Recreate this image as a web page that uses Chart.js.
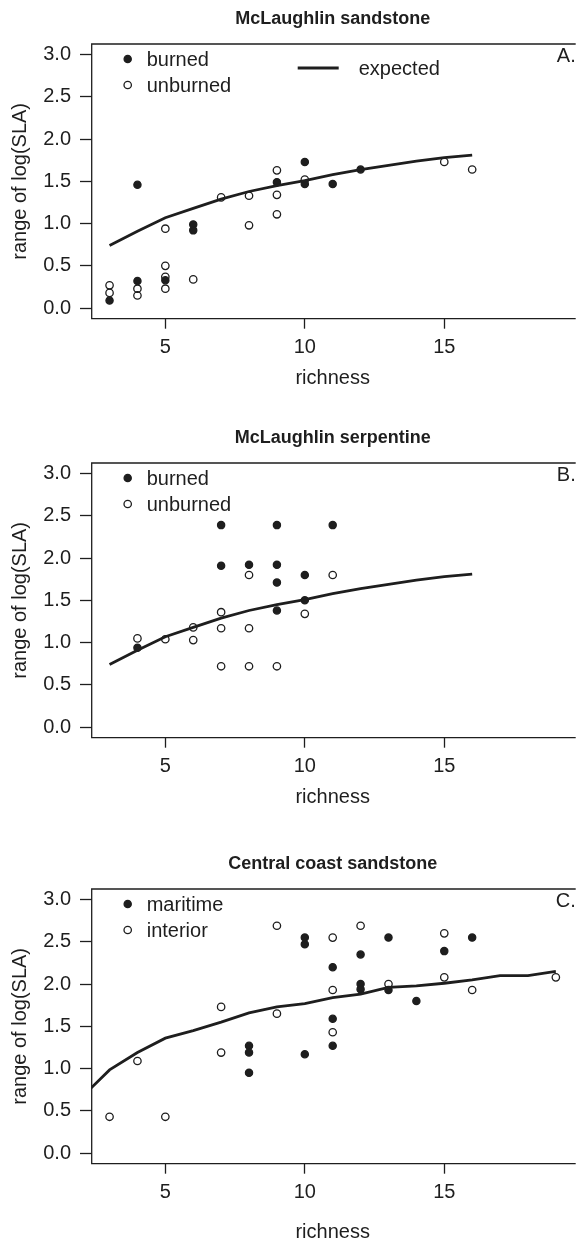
<!DOCTYPE html>
<html>
<head>
<meta charset="utf-8">
<script src="https://cdn.jsdelivr.net/npm/chart.js@4.4.1/dist/chart.umd.min.js"></script>
<style>
  html, body { margin: 0; padding: 0; background: #fff; }
  body { width: 579px; height: 1241px; overflow: hidden; position: relative; }
  .panel { position: absolute; left: 0; }
</style>
</head>
<body>
<div class="panel" style="top:0px"><canvas id="chart-a" width="579" height="400"></canvas></div>
<div class="panel" style="top:419px"><canvas id="chart-b" width="579" height="400"></canvas></div>
<div class="panel" style="top:845px"><canvas id="chart-c" width="579" height="409"></canvas></div>
<script>
const INK = '#1e1e1e';
const FONT = '"Liberation Sans", Arial, Helvetica, sans-serif';

// shared axes
const xTickValues = [5, 10, 15];
const yTickValues = [0, 0.5, 1, 1.5, 2, 2.5, 3];

// A. McLaughlin sandstone
const sandBurnedX = [3, 4, 4, 5, 6, 6, 9, 10, 10, 11, 12];
const sandBurnedY = [0.09, 0.32, 1.46, 0.33, 0.99, 0.92, 1.49, 1.73, 1.47, 1.47, 1.64];
const sandUnburnedX = [3, 3, 4, 4, 5, 5, 5, 5, 6, 7, 8, 8, 9, 9, 9, 10, 15, 16];
const sandUnburnedY = [0.27, 0.18, 0.23, 0.15, 0.94, 0.50, 0.37, 0.23, 0.34, 1.31, 1.33, 0.98, 1.63, 1.34, 1.11, 1.52, 1.73, 1.64];

// expected curve for the McLaughlin panels
const expectedX = [3, 4, 5, 6, 7, 8, 9, 10, 11, 12, 13, 14, 15, 16];
const expectedY = [0.74, 0.91, 1.07, 1.18, 1.29, 1.38, 1.45, 1.51, 1.58, 1.64, 1.69, 1.74, 1.78, 1.81];

// B. McLaughlin serpentine
const serpBurnedX = [4, 7, 7, 8, 9, 9, 9, 9, 10, 10, 11];
const serpBurnedY = [0.94, 2.39, 1.91, 1.92, 2.39, 1.92, 1.71, 1.38, 1.80, 1.50, 2.39];
const serpUnburnedX = [4, 5, 6, 6, 7, 7, 7, 8, 8, 8, 9, 10, 11];
const serpUnburnedY = [1.05, 1.04, 1.18, 1.03, 1.36, 1.17, 0.72, 1.80, 1.17, 0.72, 0.72, 1.34, 1.80];

// C. Central coast sandstone
const coastMaritimeX = [8, 8, 8, 10, 10, 10, 11, 11, 11, 12, 12, 12, 13, 13, 14, 15, 16];
const coastMaritimeY = [1.27, 1.19, 0.95, 2.55, 2.47, 1.17, 2.20, 1.59, 1.27, 2.35, 2.00, 1.94, 2.55, 1.93, 1.80, 2.39, 2.55];
const coastInteriorX = [3, 4, 5, 7, 7, 9, 9, 11, 11, 11, 12, 13, 15, 15, 16, 19];
const coastInteriorY = [0.43, 1.09, 0.43, 1.73, 1.19, 2.69, 1.65, 2.55, 1.93, 1.43, 2.69, 2.00, 2.60, 2.08, 1.93, 2.08];
const coastExpectedX = [2, 3, 4, 5, 6, 7, 8, 9, 10, 11, 12, 13, 14, 15, 16, 17, 18, 19];
const coastExpectedY = [0.66, 0.985, 1.19, 1.36, 1.45, 1.55, 1.66, 1.73, 1.77, 1.84, 1.88, 1.96, 1.98, 2.01, 2.05, 2.10, 2.10, 2.15];

function toPoints(xs, ys) {
    return xs.map((x, i) => ({ x: x, y: ys[i] }));
}

function pointSet(label, xs, ys, filled) {
    return {
        label: label,
        data: toPoints(xs, ys),
        showLine: false,
        pointRadius: filled ? 3.6 : 3.7,
        pointBorderWidth: 1.3,
        pointBackgroundColor: filled ? INK : 'rgba(0,0,0,0)',
        pointBorderColor: INK,
        filled: filled
    };
}

function curveSet(label, xs, ys) {
    return {
        label: label,
        data: toPoints(xs, ys),
        showLine: true,
        borderColor: INK,
        borderWidth: 2.8,
        pointRadius: 0,
        tension: 0,
        fill: false,
        isCurve: true
    };
}

// box round the plot region (right side falls off the page)
const framePlugin = {
    id: 'frame',
    afterDraw(chart) {
        const { ctx, chartArea: { left, top, right, bottom } } = chart;
        ctx.save();
        ctx.strokeStyle = INK;
        ctx.lineWidth = 1.3;
        ctx.beginPath();
        ctx.moveTo(right + 2, top);
        ctx.lineTo(left, top);
        ctx.lineTo(left, bottom);
        ctx.lineTo(right + 2, bottom);
        ctx.stroke();
        ctx.restore();
    }
};

// R-style legend inside the plot plus the panel letter
const panelLegend = {
    id: 'panelLegend',
    afterDraw(chart, args, opts) {
        const { ctx, chartArea: { left, top, right } } = chart;
        ctx.save();
        ctx.font = '20px ' + FONT;
        ctx.fillStyle = INK;
        ctx.strokeStyle = INK;
        ctx.textBaseline = 'middle';
        let row = 0;
        chart.data.datasets.forEach(ds => {
            if (ds.isCurve) {
                if (!opts.showCurve) return;
                const y = top + 24;
                ctx.lineWidth = 2.8;
                ctx.beginPath();
                ctx.moveTo(left + 206, y);
                ctx.lineTo(left + 247, y);
                ctx.stroke();
                ctx.fillText(ds.label, left + 267, y + 1);
                return;
            }
            const y = top + 15 + row * 26;
            ctx.lineWidth = 1.3;
            ctx.beginPath();
            ctx.arc(left + 36, y, ds.filled ? 3.6 : 3.7, 0, Math.PI * 2);
            if (ds.filled) ctx.fill();
            ctx.stroke();
            ctx.fillText(ds.label, left + 55, y + 1);
            row++;
        });
        ctx.textAlign = 'right';
        ctx.fillText(opts.tag, right + 2, top + 12);
        ctx.restore();
    }
};

function buildPanel(canvasId, title, tag, datasets, showCurve, axisHeight) {
    const ctx = document.getElementById(canvasId).getContext('2d');
    return new Chart(ctx, {
        type: 'scatter',
        data: { datasets: datasets },
        plugins: [framePlugin, panelLegend],
        options: {
            responsive: false,
            animation: false,
            devicePixelRatio: 1,
            events: [],
            layout: { padding: 0 },
            plugins: {
                legend: { display: false },
                tooltip: { enabled: false },
                title: {
                    display: true,
                    fullSize: false,   // centre over the plot region, as R does
                    text: title,
                    color: INK,
                    font: { family: FONT, size: 18, weight: 'bold' },
                    padding: { top: 8.2, bottom: 14.2 }
                },
                panelLegend: { tag: tag, showCurve: showCurve }
            },
            scales: {
                x: {
                    type: 'linear',
                    min: 2.36,
                    max: 19.64,
                    afterBuildTicks: axis => { axis.ticks = xTickValues.map(v => ({ value: v })); },
                    afterFit: axis => { axis.height = axisHeight; },
                    ticks: {
                        color: INK,
                        font: { family: FONT, size: 20 },
                        padding: 7,
                        autoSkip: false,
                        maxRotation: 0,
                        callback: v => String(v)
                    },
                    grid: { drawOnChartArea: false, drawTicks: true, tickLength: 10, tickColor: INK, tickWidth: 1.3 },
                    border: { display: false },
                    title: {
                        display: true,
                        text: 'richness',
                        color: INK,
                        font: { family: FONT, size: 20 },
                        padding: { top: 0, bottom: 10 }
                    }
                },
                y: {
                    type: 'linear',
                    min: -0.125,
                    max: 3.125,
                    afterBuildTicks: axis => { axis.ticks = yTickValues.map(v => ({ value: v })); },
                    afterFit: axis => { axis.width = 91.7; },
                    ticks: {
                        color: INK,
                        font: { family: FONT, size: 20 },
                        padding: 9,
                        autoSkip: false,
                        callback: v => Number(v).toFixed(1)
                    },
                    grid: { drawOnChartArea: false, drawTicks: true, tickLength: 11.7, tickColor: INK, tickWidth: 1.3 },
                    border: { display: false },
                    title: {
                        display: true,
                        text: 'range of log(SLA)',
                        color: INK,
                        font: { family: FONT, size: 20 },
                        padding: { top: 8, bottom: 0 }
                    }
                }
            }
        }
    });
}

buildPanel('chart-a', 'McLaughlin sandstone', 'A.', [
    curveSet('expected', expectedX, expectedY),
    pointSet('burned', sandBurnedX, sandBurnedY, true),
    pointSet('unburned', sandUnburnedX, sandUnburnedY, false)
], true, 81.3);

buildPanel('chart-b', 'McLaughlin serpentine', 'B.', [
    curveSet('expected', expectedX, expectedY),
    pointSet('burned', serpBurnedX, serpBurnedY, true),
    pointSet('unburned', serpUnburnedX, serpUnburnedY, false)
], false, 81.3);

buildPanel('chart-c', 'Central coast sandstone', 'C.', [
    curveSet('expected', coastExpectedX, coastExpectedY),
    pointSet('maritime', coastMaritimeX, coastMaritimeY, true),
    pointSet('interior', coastInteriorX, coastInteriorY, false)
], false, 90.3);
</script>
</body>
</html>
